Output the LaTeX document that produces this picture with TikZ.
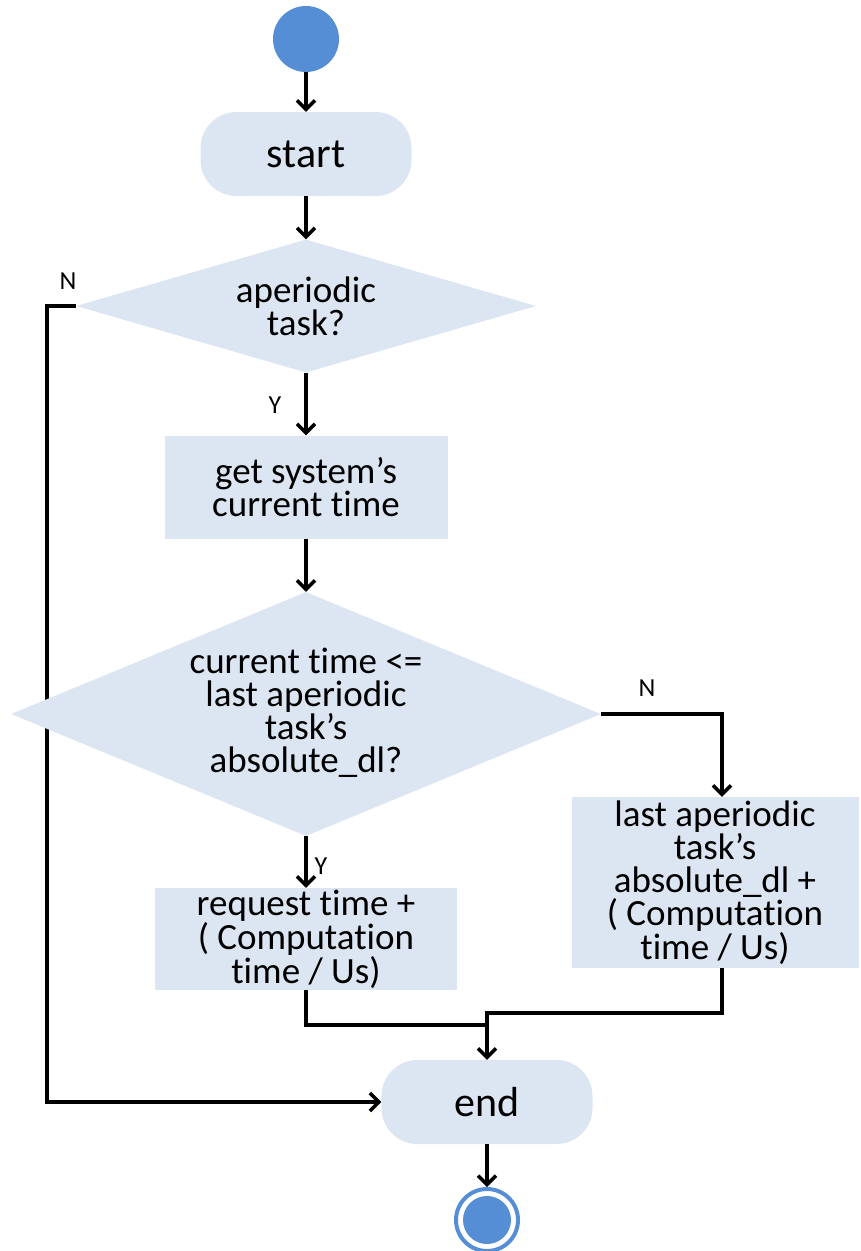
\documentclass[tikz,border=0pt]{standalone}
\usepackage{fontspec}
\setmainfont{Carlito}[Ligatures=CommonOff]
\usetikzlibrary{shapes.geometric,arrows.meta,backgrounds}
\definecolor{boxfill}{HTML}{DCE6F2}
\definecolor{dotblue}{HTML}{558ED5}
\begin{document}
\begin{tikzpicture}[x=1pt,y=-1pt,
  txt/.style={font=\fontsize{37}{33}\selectfont, text=black, align=center, inner sep=0pt},
  proc/.style={txt, rectangle, fill=boxfill},
  term/.style={rectangle, rounded corners=36pt, fill=boxfill, inner sep=0pt,
    minimum width=211pt, minimum height=84pt, font=\fontsize{42}{46}\selectfont},
  decision/.style={diamond, fill=boxfill, inner sep=0pt},
  flow/.style={line width=3.5pt, draw=black},
  arr/.style={flow, -{Straight Barb[length=9pt,width=18pt]}},
  yn/.style={font=\fontsize{26}{28}\selectfont, inner sep=0pt}
]
\useasboundingbox (0,0) rectangle (860,1251);

% initial state
\node[circle, fill=dotblue, minimum size=66pt, inner sep=0pt] (init) at (306,39) {};

% flow steps
\node[term] (start) at (306,154) {start};
\node[decision, minimum width=460pt, minimum height=133pt] (d1) at (306,306) {};
\node[txt] (d1text) at (306,306) {aperiodic\\task?};
\node[proc, minimum width=283pt, minimum height=103pt] (gettime) at (306,487) {get system’s\\current time};
\node[decision, minimum width=590pt, minimum height=244pt] (d2) at (306,714) {};
\node[txt] (d2text) at (306,713)
  {current time <=\\last aperiodic\\task’s\\absolute\_dl?};
\node[proc, minimum width=302pt, minimum height=102pt] (lbox) at (306,939)
  {request time +\\( Computation\\time / Us)};
\node[proc, minimum width=287pt, minimum height=171pt] (rbox) at (715,882.5)
  {last aperiodic\\task’s\\absolute\_dl +\\( Computation\\time / Us)};
\node[term] (end) at (487,1102) {end};

% final state
\node[circle, draw=dotblue, line width=4pt, minimum size=62pt, inner sep=0pt] (final) at (487,1220) {};
\node[circle, fill=dotblue, minimum size=48pt, inner sep=0pt] (finalcore) at (final.center) {};

% branch labels
\node[yn] (n1) at (68,281) {N};
\node[yn] (y1) at (275,405) {Y};
\node[yn] (n2) at (647,688) {N};
\node[yn] (y2) at (321,866) {Y};

% routing points
\coordinate (nw) at (47,306);
\coordinate (mL) at (487,1025);
\coordinate (mR) at (487,1013);

% connectors
\begin{scope}[on background layer]
  \draw[arr] (d1.west) -- (nw) |- (end.west);
\end{scope}
\draw[arr] (init.south) -- (start.north);
\draw[arr] (start.south) -- (d1.north);
\draw[arr] (d1.south) -- (gettime.north);
\draw[arr] (gettime.south) -- (d2.north);
\draw[arr] (d2.east) -| ([xshift=7pt]rbox.north);
\draw[arr] (d2.south) -- (lbox.north);
\draw[flow] (lbox.south) |- (mL);
\draw[arr] ([xshift=7pt]rbox.south) |- (mR) -- (end.north);
\draw[arr] (end.south) -- (final.north);
\end{tikzpicture}
\end{document}
